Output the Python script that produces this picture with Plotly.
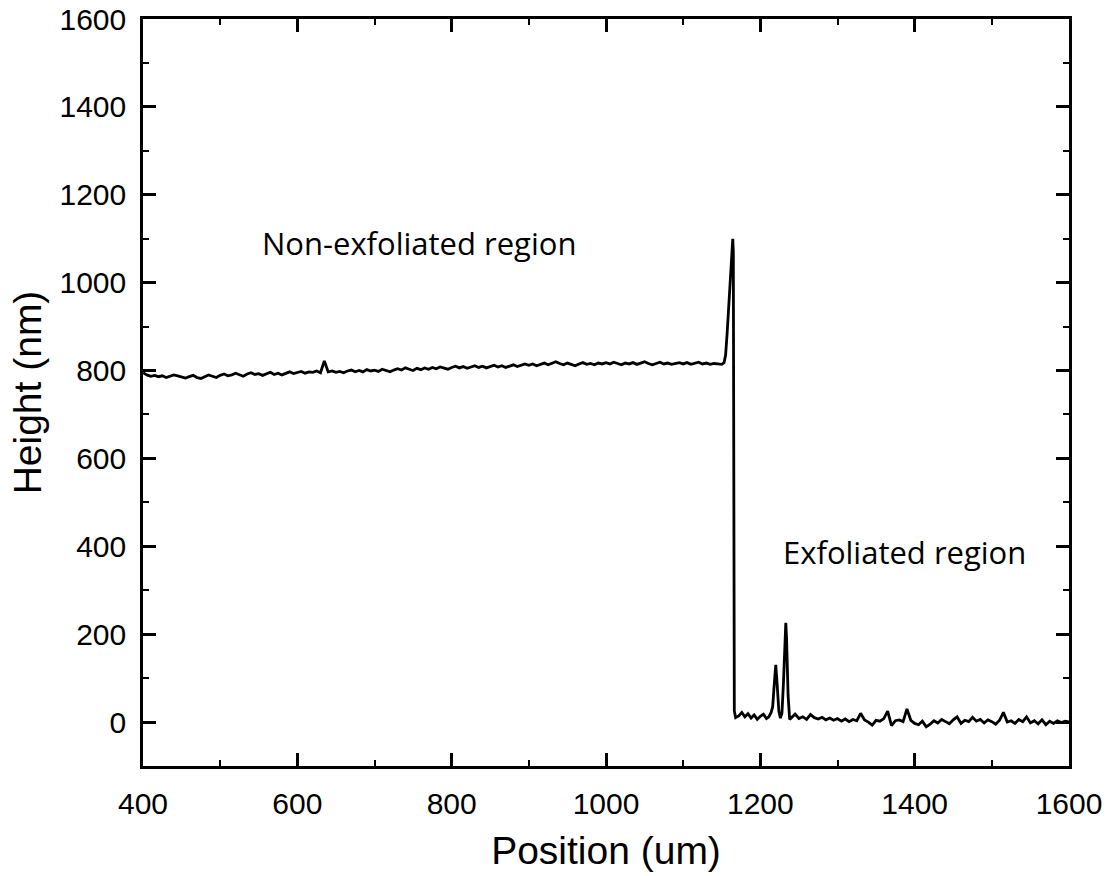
import numpy as np
import plotly.graph_objects as go

# Non-exfoliated baseline, x = 400..1150 step 5
base_start, base_step = 400, 5
base_height = [
    795, 790, 787, 789, 786, 788, 784, 787, 790, 788, 785, 783, 786, 789, 784, 782, 786, 790, 787, 784,
    789, 792, 788, 790, 794, 790, 787, 792, 795, 791, 793, 789, 792, 796, 791, 794, 790, 793, 797, 793,
    795, 798, 794, 797, 796, 799, 795, 822, 797, 799, 796, 798, 795, 799, 801, 797, 800, 797, 802, 799,
    801, 798, 803, 800, 797, 801, 804, 801, 806, 803, 800, 805, 802, 806, 803, 807, 804, 808, 805, 803,
    807, 810, 806, 809, 805, 808, 811, 807, 810, 806, 809, 812, 808, 811, 807, 810, 813, 809, 812, 815,
    812, 815, 811, 814, 817, 813, 816, 820, 816, 813, 817, 814, 811, 815, 818, 814, 816, 813, 817, 815,
    818, 815, 819, 816, 813, 817, 815, 818, 814, 817, 820, 816, 813, 816, 819, 815, 817, 814, 816, 818,
    815, 818, 814, 816, 819, 815, 817, 814, 816, 815, 814,
]

# Edge spike, step and exfoliated peaks
edge_pos = [1153, 1155, 1157, 1159, 1161, 1162.5, 1163.5, 1164.3, 1165, 1165.6, 1166.3, 1168,
            1172, 1176, 1180, 1184, 1188, 1192, 1196, 1200, 1204, 1208, 1211, 1214, 1216, 1218,
            1220, 1222, 1224, 1226, 1228, 1230, 1232, 1233, 1234, 1236, 1238, 1240]
edge_height = [818, 835, 885, 950, 1010, 1060, 1092, 1100, 1070, 500, 25, 10,
               14, 22, 12, 19, 9, 16, 6, 13, 18, 8, 12, 22, 35, 85,
               130, 80, 25, 9, 20, 90, 200, 226, 190, 60, 6, 10]

# Exfoliated region, x = 1245..1600 step 5
exf_start, exf_step = 1245, 5
exf_height = [
    18, 8, 12, 6, 17, 10, 7, 11, 5, 9, 4, 8, 2, 7, 1, 6, 3, 20, 5, 0,
    -7, 4, 2, 8, 25, -8, 3, 5, 1, 30, 4, -3, -6, 2, -11, -5, 3, -2, 6, 1,
    -4, 5, 12, -3, 4, 1, 11, 2, 6, -2, 5, 1, -5, 4, 22, 0, 3, -3, 6, 1,
    12, -2, 3, -4, 5, -6, 2, -3, 3, -1, 2, 0,
]

x_ticks = [400, 600, 800, 1000, 1200, 1400, 1600]
y_ticks = [0, 200, 400, 600, 800, 1000, 1200, 1400, 1600]

base_pos = list(base_start + base_step * np.arange(len(base_height)))
exf_pos = list(exf_start + exf_step * np.arange(len(exf_height)))

x = base_pos + edge_pos + exf_pos
y = base_height + edge_height + exf_height

fig = go.Figure()
fig.add_trace(go.Scatter(x=x, y=y, mode="lines",
                         line=dict(color="black", width=2.8), showlegend=False))

axis_font = dict(family="Liberation Sans, Arial, sans-serif", size=30, color="black")
title_font = dict(family="Liberation Sans, Arial, sans-serif", size=39, color="black")
common = dict(showline=True, linecolor="black", linewidth=2.5, mirror="allticks",
              ticks="inside", ticklen=13, tickwidth=2.5, tickcolor="black",
              showgrid=False, zeroline=False, tickfont=axis_font, automargin=False)

fig.update_xaxes(range=[400, 1600], tickvals=x_ticks, ticktext=[str(v) for v in x_ticks],
                 minor=dict(ticks="inside", ticklen=6, tickwidth=2.2, tickcolor="black", dtick=100, tick0=400),
                 title=dict(text="Position (um)", font=title_font, standoff=18),
                 ticklabelstandoff=9, **common)
fig.update_yaxes(range=[-100, 1600], tickvals=y_ticks, ticktext=[str(v) for v in y_ticks],
                 minor=dict(ticks="inside", ticklen=6, tickwidth=2.2, tickcolor="black", dtick=100, tick0=-100),
                 title=dict(text="Height (nm)", font=title_font, standoff=6),
                 ticklabelstandoff=8, **common)

ann_font = dict(family="Open Sans, sans-serif", size=31, color="black")
fig.add_annotation(x=551, y=1091, text="Non-exfoliated region", showarrow=False,
                   xanchor="left", yanchor="middle", font=ann_font)
fig.add_annotation(x=1227, y=386, text="Exfoliated region", showarrow=False,
                   xanchor="left", yanchor="middle", font=ann_font)

fig.update_layout(width=1110, height=876, margin=dict(l=143, r=41, t=19, b=110),
                  plot_bgcolor="white", paper_bgcolor="white")

fig.write_html("out.html")
